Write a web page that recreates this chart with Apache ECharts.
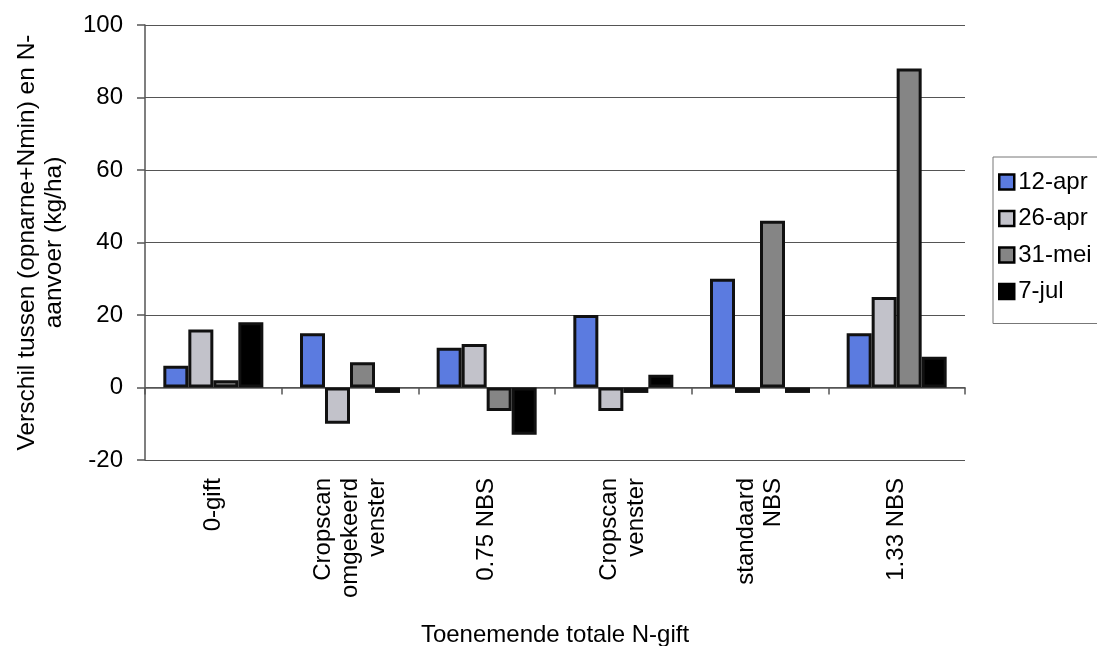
<!DOCTYPE html>
<html>
<head>
<meta charset="utf-8">
<script src="https://cdn.jsdelivr.net/npm/echarts@6/dist/echarts.min.js"></script>
<style>
html,body{margin:0;padding:0;background:#fff;}
#chart{width:1097px;height:646px;}
</style>
</head>
<body>
<div id="chart"></div>
<script>
var categories = ['0-gift', 'Cropscan\nomgekeerd\nvenster', '0.75 NBS', 'Cropscan\nvenster', 'standaard\nNBS', '1.33 NBS'];
var seriesNames = ['12-apr', '26-apr', '31-mei', '7-jul'];
var apr12 = [6, 15, 11, 20, 30, 15];
var apr26 = [16, -10, 12, -6.5, -1.5, 25];
var mei31 = [2, 7, -6.5, -1.5, 46, 88];
var jul7 = [18, -1.5, -13, 3.5, -1.5, 8.5];
var yTicks = {min: -20, max: 100, interval: 20};
var colors = ['#5b7be0', '#c2c2ca', '#858585', '#000000'];
var allValues = [apr12, apr26, mei31, jul7];

var FONT = '"Liberation Sans", Arial, sans-serif';
var chart = echarts.init(document.getElementById('chart'));
var series = seriesNames.map(function (n, i) {
  return {
    name: n,
    type: 'bar',
    xAxisIndex: 0,
    data: allValues[i],
    barWidth: 25,
    barGap: '0%',
    itemStyle: {color: colors[i], borderColor: '#111', borderWidth: 3},
    emphasis: {disabled: true}
  };
});
chart.setOption({
  animation: false,
  backgroundColor: '#fff',
  textStyle: {fontFamily: FONT},
  grid: {left: 145, right: 132, top: 25, bottom: 186, outerBoundsMode: 'none', containLabel: false},
  legend: {
    orient: 'vertical',
    left: 993, top: 157,
    padding: [13, 20, 20, 5],
    icon: 'rect',
    itemWidth: 15, itemHeight: 15, itemGap: 12.5,
    borderColor: '#777', borderWidth: 1,
    itemStyle: {borderColor: '#000', borderWidth: 2.5},
    textStyle: {fontSize: 24, color: '#000', fontFamily: FONT, padding: [0, 0, 0, -1]},
    data: seriesNames
  },
  xAxis: [{
    type: 'category',
    data: categories,
    position: 'bottom',
    axisLine: {show: false, onZero: false},
    axisTick: {show: false},
    axisLabel: {rotate: 90, fontSize: 24, color: '#000', margin: 18, lineHeight: 27, interval: 0, fontFamily: FONT},
    name: 'Toenemende totale N-gift',
    nameLocation: 'middle',
    nameGap: 163,
    nameTextStyle: {fontSize: 24, color: '#000', fontFamily: FONT}
  }, {
    type: 'category',
    data: categories,
    position: 'bottom',
    axisLine: {show: true, onZero: true, lineStyle: {color: '#555', width: 1.5}},
    axisTick: {show: true, length: 7, lineStyle: {color: '#555', width: 1.5}},
    axisLabel: {show: false},
    splitLine: {show: false}
  }],
  yAxis: {
    type: 'value',
    min: yTicks.min, max: yTicks.max, interval: yTicks.interval,
    axisLine: {show: true, lineStyle: {color: '#555', width: 1.5}},
    axisTick: {show: true, length: 8, lineStyle: {color: '#555', width: 1.5}},
    axisLabel: {fontSize: 24, color: '#000', margin: 22, fontFamily: FONT},
    splitLine: {show: true, lineStyle: {color: '#555', width: 1.2}},
    name: 'Verschil tussen (opnarne+Nmin) en N-\naanvoer (kg/ha)',
    nameLocation: 'middle',
    nameRotate: 90,
    nameGap: 77,
    nameTextStyle: {fontSize: 24.5, color: '#000', lineHeight: 27, fontFamily: FONT}
  },
  series: series
});
</script>
</body>
</html>
